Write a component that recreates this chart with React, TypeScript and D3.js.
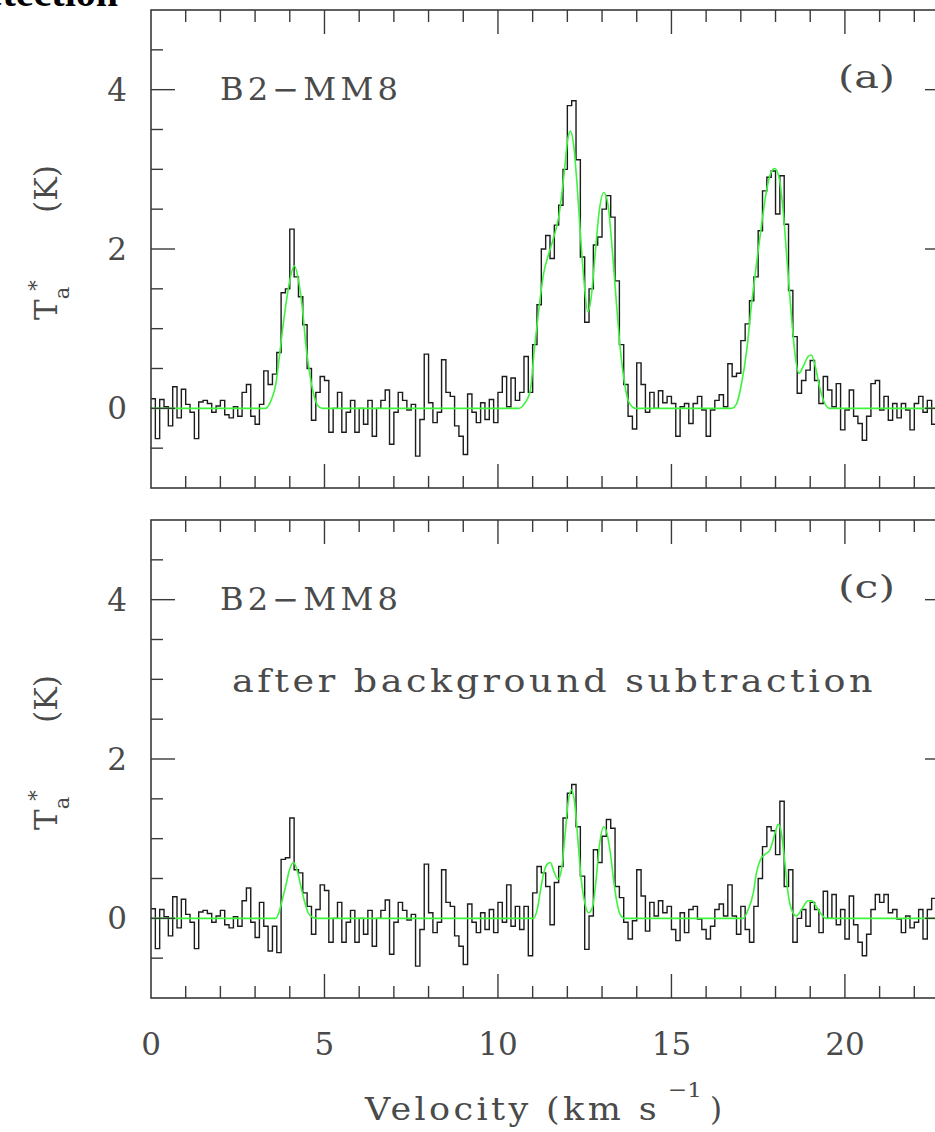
import React from "react";
import * as d3 from "d3";

// Channel spacing of the spectra (km/s); channel k spans [k, k+1] * CHANNEL_WIDTH
const CHANNEL_WIDTH = 0.125;

// B2-MM8 antenna temperature per channel (K), raw spectrum
const spectrumRaw: number[] = [
  0.12, -0.38, 0.11, 0.02, -0.22, 0.27, -0.12, 0.24, 0.05, -0.05, -0.38, 0.08, 0.1, 0.06, -0.05, 0.03, 0.1, -0.08, -0.12, 0.02,
  -0.1, 0.2, 0.3, -0.1, -0.2, 0.05, 0.47, 0.3, 0.43, 0.7, 1.45, 1.5, 2.25, 1.65, 1.4, 1.05, 0.5, -0.15, 0.2, 0.4,
  0.35, -0.3, 0.0, 0.2, -0.3, -0.05, 0.1, -0.3, 0.0, -0.2, 0.1, -0.35, 0.0, 0.1, 0.23, -0.45, -0.05, 0.2, 0.1, -0.02,
  0.05, -0.6, -0.14, 0.68, 0.07, -0.18, -0.05, 0.61, 0.2, 0.15, -0.22, -0.35, -0.58, 0.18, -0.05, -0.18, 0.07, -0.14, 0.11, -0.18,
  0.2, 0.4, 0.02, 0.38, 0.1, 0.2, 0.65, 0.2, 0.8, 1.3, 2.0, 2.17, 1.88, 2.3, 2.55, 3.0, 3.8, 3.86, 3.12, 1.9,
  1.08, 1.5, 2.05, 2.15, 2.5, 2.67, 2.4, 1.6, 0.8, 0.3, -0.1, -0.26, 0.57, 0.3, -0.05, 0.2, 0.0, 0.22, 0.07, 0.15,
  0.06, -0.35, 0.02, 0.06, -0.19, 0.06, 0.15, -0.02, -0.35, -0.02, 0.1, 0.17, 0.02, 0.56, 0.4, 0.44, 0.85, 1.06, 1.35, 1.65,
  2.23, 2.73, 2.9, 2.98, 2.44, 2.92, 2.31, 1.48, 0.9, 0.19, 0.35, 0.48, 0.6, 0.35, 0.06, 0.4, 0.23, 0.02, 0.31, -0.27,
  -0.02, 0.23, -0.1, -0.19, -0.4, -0.1, 0.31, 0.35, -0.02, 0.15, -0.15, 0.06, -0.12, 0.06, -0.02, -0.27, 0.06, 0.15, -0.05, 0.1,
  -0.2, 0.05, 0.2, 0.05,
];

// Same position after background subtraction
const spectrumSubtracted: number[] = [
  0.12, -0.38, 0.11, 0.02, -0.22, 0.27, -0.12, 0.24, 0.05, -0.05, -0.38, 0.08, 0.1, 0.06, -0.05, 0.03, 0.1, -0.08, -0.12, 0.02,
  -0.1, 0.22, 0.38, -0.05, -0.24, 0.2, -0.1, -0.41, -0.1, -0.43, 0.74, 0.76, 1.26, 0.61, 0.57, 0.32, 0.15, -0.2, 0.11, 0.42,
  0.35, -0.3, 0.0, 0.2, -0.3, -0.05, 0.1, -0.3, 0.0, -0.2, 0.1, -0.35, 0.0, 0.1, 0.23, -0.45, -0.05, 0.2, 0.1, -0.02,
  0.05, -0.6, -0.14, 0.68, 0.07, -0.18, -0.05, 0.61, 0.2, 0.15, -0.22, -0.35, -0.58, 0.18, -0.05, -0.18, 0.07, -0.14, 0.11, -0.18,
  0.2, -0.05, 0.42, -0.1, 0.15, -0.14, 0.15, -0.47, 0.32, 0.65, 0.57, 0.4, -0.08, 0.45, 0.65, 1.26, 1.57, 1.68, 1.15, 0.53,
  -0.39, 0.03, 0.86, 0.7, 1.03, 1.24, 1.13, 0.4, 0.26, -0.05, -0.26, -0.03, 0.61, 0.28, -0.16, 0.2, 0.03, 0.22, 0.07, 0.15,
  -0.14, -0.28, 0.07, -0.18, 0.11, 0.15, -0.01, -0.14, -0.26, -0.1, 0.11, 0.18, 0.03, 0.42, 0.03, -0.2, 0.15, -0.14, -0.3, 0.15,
  0.5, 0.9, 1.15, 1.1, 0.8, 1.47, 0.4, 0.61, -0.3, 0.0, 0.11, -0.1, 0.2, 0.11, -0.18, 0.34, 0.0, 0.3, -0.08, 0.11,
  -0.26, 0.28, -0.08, -0.3, -0.47, -0.2, 0.11, 0.3, 0.2, 0.3, 0.07, 0.11, -0.01, -0.18, 0.03, -0.12, -0.05, 0.11, -0.26, 0.11,
  0.25, 0.0, 0.1, -0.1,
];

// Hyperfine fit, sampled as [velocity, T] knots
const fitRaw: [number, number][] = [
  [0, 0], [3.3, 0], [3.46, 0.1], [3.6, 0.31], [3.7, 0.65], [3.79, 0.98], [3.89, 1.31], [3.98, 1.56], [4.13, 1.79],
  [4.27, 1.56], [4.37, 1.23], [4.46, 0.81], [4.56, 0.48], [4.66, 0.23], [4.8, 0.04], [4.94, 0],
  [10.6, 0], [10.75, 0.05], [10.93, 0.22], [11.05, 0.75], [11.18, 1.25], [11.32, 1.7], [11.47, 1.95], [11.61, 2.15],
  [11.75, 2.4], [11.9, 2.92], [12.02, 3.4], [12.09, 3.48], [12.18, 3.31], [12.28, 2.81], [12.37, 2.23], [12.47, 1.65],
  [12.59, 1.21], [12.69, 1.4], [12.81, 1.98], [12.92, 2.48], [13.05, 2.71], [13.17, 2.56], [13.29, 2.02], [13.4, 1.4],
  [13.53, 0.73], [13.65, 0.31], [13.77, 0.08], [13.96, 0],
  [16.73, 0], [16.88, 0.06], [17.02, 0.31], [17.17, 0.73], [17.31, 1.31], [17.45, 1.81], [17.6, 2.31], [17.74, 2.73],
  [17.87, 2.96], [17.98, 3.01], [18.1, 2.9], [18.22, 2.48], [18.34, 1.81], [18.46, 1.15], [18.57, 0.65], [18.68, 0.44],
  [18.79, 0.52], [18.94, 0.65], [19.03, 0.67], [19.15, 0.52], [19.27, 0.27], [19.4, 0.08], [19.56, 0], [23.5, 0],
];

const fitSubtracted: [number, number][] = [
  [0, 0], [3.6, 0], [3.7, 0.09], [3.79, 0.24], [3.89, 0.42], [3.98, 0.59], [4.11, 0.7], [4.22, 0.59], [4.32, 0.4],
  [4.42, 0.22], [4.53, 0.07], [4.66, 0.01], [4.8, 0],
  [11.03, 0], [11.13, 0.11], [11.23, 0.36], [11.32, 0.57], [11.42, 0.68], [11.51, 0.7], [11.61, 0.59], [11.73, 0.49],
  [11.83, 0.61], [11.93, 1.03], [12.02, 1.45], [12.12, 1.61], [12.21, 1.45], [12.31, 0.95], [12.4, 0.49], [12.5, 0.2],
  [12.61, 0.07], [12.73, 0.15], [12.83, 0.49], [12.92, 0.9], [13.05, 1.15], [13.14, 1.07], [13.24, 0.82], [13.33, 0.49],
  [13.43, 0.2], [13.52, 0.05], [13.65, 0],
  [17.07, 0], [17.21, 0.11], [17.36, 0.32], [17.45, 0.57], [17.57, 0.74], [17.69, 0.8], [17.84, 0.86], [17.96, 1.03],
  [18.08, 1.18], [18.17, 1.07], [18.27, 0.7], [18.36, 0.32], [18.48, 0.09], [18.6, 0.03], [18.75, 0.11], [18.94, 0.22],
  [19.05, 0.22], [19.17, 0.15], [19.32, 0.05], [19.46, 0], [23.5, 0],
];

const velocityLabels = [0, 5, 10, 15, 20];
const temperatureLabels = [0, 2, 4];
const sourceName = "B2\u2212MM8";
const panelTags = ["(a)", "(c)"];

const WIDTH = 935;
const HEIGHT = 1132;
const FRAME_LEFT = 151;
const FRAME_RIGHT = 949;
const SERIF = "'DejaVu Serif', 'Liberation Serif', serif";
const INK = "#4a4a4a";
const FRAME = "#3a3a3a";

type PanelProps = {
  id: string;
  top: number;
  bottom: number;
  spectrum: number[];
  fit: [number, number][];
  tag: string;
  note?: string;
  showVelocityLabels: boolean;
};

function Panel({ id, top, bottom, spectrum, fit, tag, note, showVelocityLabels }: PanelProps) {
  const x = d3.scaleLinear().domain([0, 23]).range([FRAME_LEFT, FRAME_RIGHT]);
  const y = d3.scaleLinear().domain([-1, 5]).range([bottom, top]);

  const channels: [number, number][] = spectrum.map((t, k) => [k * CHANNEL_WIDTH, t]);
  channels.push([spectrum.length * CHANNEL_WIDTH, spectrum[spectrum.length - 1]]);

  const stepPath = d3
    .line<[number, number]>()
    .x((d) => x(d[0]))
    .y((d) => y(d[1]))
    .curve(d3.curveStepAfter)(channels);

  const fitPath = d3
    .line<[number, number]>()
    .x((d) => x(d[0]))
    .y((d) => y(d[1]))
    .curve(d3.curveMonotoneX)(fit);

  const xTicks = d3.range(1, 23, 1);
  const yTicks = d3.range(-0.5, 5, 0.5);
  const MAJOR = 24;
  const MINOR = 12;

  const midY = (top + bottom) / 2;

  return (
    <g>
      <defs>
        <clipPath id={`clip-${id}`}>
          <rect x={FRAME_LEFT} y={top} width={FRAME_RIGHT - FRAME_LEFT} height={bottom - top} />
        </clipPath>
      </defs>

      <g clipPath={`url(#clip-${id})`}>
        <path d={stepPath ?? ""} fill="none" stroke="#1c1c1c" strokeWidth={1.4} />
        <path d={fitPath ?? ""} fill="none" stroke="#3cf53c" strokeWidth={1.6} />
      </g>

      {/* frame */}
      <rect
        x={FRAME_LEFT}
        y={top}
        width={FRAME_RIGHT - FRAME_LEFT}
        height={bottom - top}
        fill="none"
        stroke={FRAME}
        strokeWidth={1.6}
      />

      {/* velocity ticks, bottom and top */}
      {xTicks.map((v) => {
        const len = v % 5 === 0 ? MAJOR : MINOR;
        const px = x(v);
        return (
          <g key={`xt-${v}`} stroke={FRAME} strokeWidth={1.4}>
            <line x1={px} x2={px} y1={bottom} y2={bottom - len} />
            <line x1={px} x2={px} y1={top} y2={top + len} />
          </g>
        );
      })}

      {/* temperature ticks, left and right */}
      {yTicks.map((t) => {
        const len = Math.abs(t % 2) < 1e-9 ? MAJOR : MINOR;
        const py = y(t);
        return (
          <g key={`yt-${t}`} stroke={FRAME} strokeWidth={1.4}>
            <line x1={FRAME_LEFT} x2={FRAME_LEFT + len} y1={py} y2={py} />
            <line x1={FRAME_RIGHT} x2={FRAME_RIGHT - len} y1={py} y2={py} />
          </g>
        );
      })}

      {/* temperature labels */}
      {temperatureLabels.map((t) => (
        <text
          key={`yl-${t}`}
          x={127}
          y={y(t) + 11}
          textAnchor="end"
          fontFamily={SERIF}
          fontSize={31}
          fill={INK}
        >
          {t}
        </text>
      ))}

      {/* velocity labels */}
      {showVelocityLabels &&
        velocityLabels.map((v) => (
          <text
            key={`xl-${v}`}
            x={x(v)}
            y={bottom + 57}
            textAnchor="middle"
            fontFamily={SERIF}
            fontSize={31}
            fill={INK}
          >
            {v}
          </text>
        ))}

      {/* y axis title: T_a^* (K) */}
      <text
        transform={`translate(57, ${midY + 71}) rotate(-90)`}
        fontFamily={SERIF}
        fontSize={31}
        fill={INK}
      >
        <tspan>T</tspan>
        <tspan fontSize={21} dy={12}>a</tspan>
        <tspan fontSize={21} dx={-4} dy={-26}>*</tspan>
      </text>
      <text
        transform={`translate(57, ${midY - 60}) rotate(-90)`}
        textAnchor="middle"
        fontFamily={SERIF}
        fontSize={31}
        fill={INK}
        textLength={48}
        lengthAdjust="spacingAndGlyphs"
      >
        (K)
      </text>

      {/* annotations */}
      <text
        x={220}
        y={top + 90}
        fontFamily={SERIF}
        fontSize={31}
        fill={INK}
        style={{ letterSpacing: "4px" }}
        textLength={182}
        lengthAdjust="spacingAndGlyphs"
      >
        {sourceName}
      </text>
      <text x={838} y={top + 78} fontFamily={SERIF} fontSize={31} fill={INK} textLength={57} lengthAdjust="spacingAndGlyphs">
        {tag}
      </text>
      {note && (
        <text
          x={232}
          y={top + 172}
          fontFamily={SERIF}
          fontSize={31}
          fill={INK}
          style={{ letterSpacing: "3px" }}
          textLength={644}
          lengthAdjust="spacingAndGlyphs"
        >
          {note}
        </text>
      )}
    </g>
  );
}

export default function App() {
  return (
    <div style={{ position: "absolute", left: 0, top: 0, width: WIDTH, height: HEIGHT, background: "#fff" }}>
      <svg width={WIDTH} height={HEIGHT} viewBox={`0 0 ${WIDTH} ${HEIGHT}`} style={{ display: "block" }}>
        <rect x={0} y={0} width={WIDTH} height={HEIGHT} fill="#fff" />

        {/* tail of the running text above the figure */}
        <text x={118} y={6} textAnchor="end" fontFamily="'Liberation Serif', serif" fontWeight="bold" fontSize={40} fill="#000">
          detection
        </text>

        <Panel
          id="raw"
          top={10}
          bottom={488}
          spectrum={spectrumRaw}
          fit={fitRaw}
          tag={panelTags[0]}
          showVelocityLabels={false}
        />
        <Panel
          id="sub"
          top={520}
          bottom={998}
          spectrum={spectrumSubtracted}
          fit={fitSubtracted}
          tag={panelTags[1]}
          note="after background subtraction"
          showVelocityLabels={true}
        />

        {/* velocity axis title */}
        <text
          x={365}
          y={1120}
          fontFamily={SERIF}
          fontSize={31}
          fill={INK}
          style={{ letterSpacing: "3px" }}
          textLength={295}
          lengthAdjust="spacingAndGlyphs"
        >
          Velocity (km s
        </text>
        <text x={668} y={1097} fontFamily={SERIF} fontSize={21} fill={INK} textLength={34} lengthAdjust="spacingAndGlyphs">
          {"\u22121"}
        </text>
        <text x={710} y={1120} fontFamily={SERIF} fontSize={31} fill={INK}>
          )
        </text>
      </svg>
    </div>
  );
}
